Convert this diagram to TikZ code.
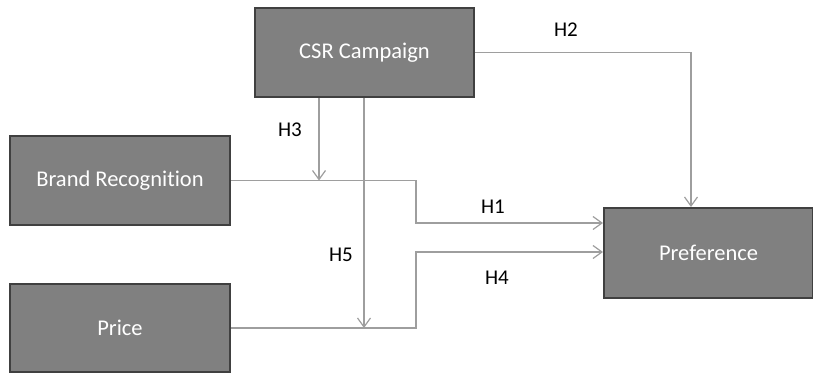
\documentclass[tikz,border=0pt]{standalone}
\usepackage{fontspec}
\setmainfont{Carlito}[Ligatures={NoCommon}]
\usetikzlibrary{arrows.meta,calc}
\begin{document}
\begin{tikzpicture}[x=1pt,y=-1pt,
  box/.style={draw=black!75,line width=2pt,fill=black!50,text=white,
    font=\fontsize{22.5}{26}\selectfont,inner sep=0pt,anchor=north west},
  conn/.style={draw=black!38,line width=1.2pt,-{Straight Barb[length=9pt,width=13pt]}},
  lab/.style={font=\fontsize{21}{24}\selectfont,text=black,inner sep=0pt}]
\useasboundingbox (0,0) rectangle (813,372);
\node[box,minimum width=219pt,minimum height=89pt] (csr) at (254,7) {CSR Campaign};
\node[box,minimum width=220pt,minimum height=89pt] (br) at (9,135) {Brand Recognition};
\node[box,minimum width=220pt,minimum height=88pt] (price) at (9,283) {Price};
\node[box,minimum width=209pt,minimum height=90pt] (pref) at (603,207) {Preference};
\coordinate (p1) at (603,223);
\coordinate (p2) at (603,252);
\coordinate (bend1) at (416,180);
\coordinate (bend2) at (416,327);
\coordinate (h2x) at (691,0);
\coordinate (h3x) at (319,0);
\coordinate (h5x) at (364,0);
\draw[conn] (csr.east) -| (pref.north -| h2x);
\draw[conn] (csr.south -| h3x) -- (br.east -| h3x);
\draw[conn] (csr.south -| h5x) -- (price.east -| h5x);
\draw[conn] (br.east) -- (br.east -| bend1) |- (p1);
\draw[conn] (price.east) -- (price.east -| bend2) |- (p2);
\node[lab] (l2) at (566,30) {H2};
\node[lab] (l3) at (290,130) {H3};
\node[lab] (l5) at (341,255) {H5};
\node[lab] (l1) at (493,207) {H1};
\node[lab] (l4) at (497,278) {H4};
\end{tikzpicture}
\end{document}
